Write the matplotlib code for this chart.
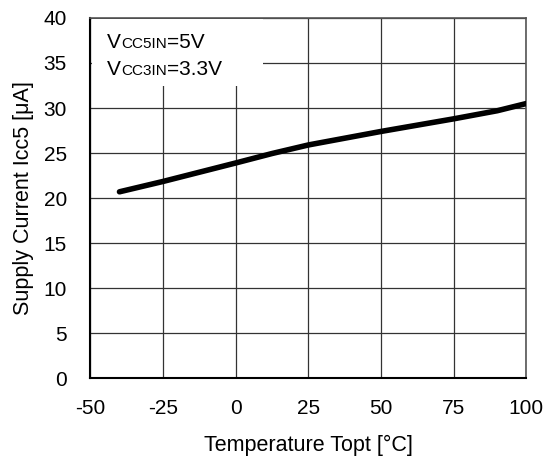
import matplotlib.pyplot as plt
from matplotlib.patches import Rectangle

plt.rcParams["font.family"] = ["Liberation Sans", "DejaVu Sans"]
plt.rcParams["axes.unicode_minus"] = False

# Icc5 vs temperature
temperature = [-40, -25, 0, 12.5, 25, 50, 75, 90, 100]
supply_current = [20.7, 21.85, 23.9, 24.95, 25.9, 27.4, 28.8, 29.7, 30.5]

x_ticks = [-50, -25, 0, 25, 50, 75, 100]
y_ticks = [0, 5, 10, 15, 20, 25, 30, 35, 40]

fig = plt.figure(figsize=(5.47, 4.62), dpi=100)
ax = fig.add_axes([0.1653, 0.1812, 0.797, 0.780])

ax.plot(temperature, supply_current, color="black", lw=4.0,
        solid_capstyle="round", zorder=4)

ax.set_xlim(-50, 100)
ax.set_ylim(0, 40)
ax.set_xticks(x_ticks)
ax.set_yticks(y_ticks)
ax.tick_params(length=0, labelsize=15)
ax.tick_params(axis="x", pad=15)
ax.tick_params(axis="y", pad=17)
ax.grid(True, color="#333333", lw=0.9)
ax.set_axisbelow(True)
for side in ["left", "bottom"]:
    ax.spines[side].set_linewidth(1.5)
for side in ["top", "right"]:
    ax.spines[side].set_color("#555555")
    ax.spines[side].set_linewidth(1.2)

ax.set_xlabel("Temperature Topt [°C]", fontsize=15.5, labelpad=12)
ax.set_ylabel("Supply Current Icc5 [μA]", fontsize=15.5, labelpad=7)

# white box behind the condition text
ax.add_patch(Rectangle((0.003, 0.811), 0.393, 0.187, transform=ax.transAxes,
                       facecolor="white", edgecolor="none", zorder=3))

fig.canvas.draw()
renderer = fig.canvas.get_renderer()


def cond_text(y, small, value):
    t1 = ax.text(0.038, y, "V", transform=ax.transAxes, fontsize=15,
                 va="baseline", zorder=5)
    ext = t1.get_window_extent(renderer)
    x2 = ax.transAxes.inverted().transform((ext.x1, 0))[0]
    t2 = ax.text(x2, y, small, transform=ax.transAxes, fontsize=11,
                 va="baseline", zorder=5)
    ext = t2.get_window_extent(renderer)
    x3 = ax.transAxes.inverted().transform((ext.x1, 0))[0]
    ax.text(x3, y, value, transform=ax.transAxes, fontsize=15,
            va="baseline", zorder=5)


cond_text(0.917, "CC5IN", "=5V")
cond_text(0.842, "CC3IN", "=3.3V")

fig.savefig("out.png", dpi=100)
